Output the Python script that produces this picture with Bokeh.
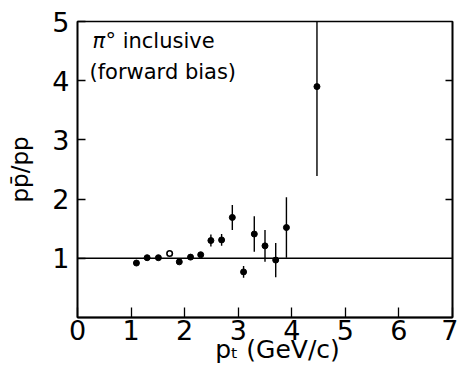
from bokeh.plotting import figure
from bokeh.models import Range1d, FixedTicker, LinearAxis, Span, Label, ColumnDataSource
from bokeh.embed import file_html
from bokeh.resources import INLINE

# data
pt_closed = [1.10, 1.30, 1.51, 1.90, 2.11, 2.30, 2.49, 2.69, 2.89, 3.10, 3.30, 3.50, 3.70, 3.90, 4.47]
ratio_closed = [0.92, 1.01, 1.01, 0.94, 1.02, 1.06, 1.30, 1.31, 1.69, 0.77, 1.41, 1.21, 0.97, 1.52, 3.90]
err_closed = [0.0, 0.0, 0.0, 0.0, 0.0, 0.0, 0.10, 0.10, 0.21, 0.10, 0.30, 0.27, 0.29, 0.51, 1.51]
pt_open = [1.72]
ratio_open = [1.08]
reference_ratio = 1.0
x_ticks = [0, 1, 2, 3, 4, 5, 6, 7]
y_ticks = [1, 2, 3, 4, 5]
right_ticks = [2, 3, 4]

FONT = "DejaVu Sans"

p = figure(width=458, height=372, output_backend="svg", toolbar_location=None,
           x_range=Range1d(0, 7), y_range=Range1d(0, 5),
           min_border_left=77, min_border_right=6, min_border_top=21, min_border_bottom=55)

p.grid.visible = False
p.outline_line_color = "black"
p.outline_line_width = 1.6
p.background_fill_color = "white"
p.border_fill_color = "white"

xa = p.xaxis[0]
xa.ticker = FixedTicker(ticks=x_ticks)
xa.major_tick_in = 10
xa.major_tick_out = 0
xa.minor_tick_line_color = None
xa.axis_line_width = 1.8
xa.major_tick_line_width = 1.3
xa.major_label_text_font = FONT
xa.major_label_text_font_size = "27px"
xa.major_label_standoff = 2
xa.major_label_text_color = "black"
xa.axis_label = "\u2003p\u209c (GeV/c)"
xa.axis_label_text_font = FONT
xa.axis_label_text_font_size = "25px"
xa.axis_label_text_font_style = "normal"
xa.axis_label_text_color = "black"
xa.axis_label_standoff = -8

ya = p.yaxis[0]
ya.ticker = FixedTicker(ticks=y_ticks)
ya.major_tick_in = 8
ya.major_tick_out = 0
ya.minor_tick_line_color = None
ya.axis_line_width = 1.6
ya.major_tick_line_width = 1.3
ya.major_label_text_font = FONT
ya.major_label_text_font_size = "27px"
ya.major_label_standoff = 8
ya.major_label_text_color = "black"
ya.axis_label = "pp\u0304/pp"
ya.axis_label_text_font = FONT
ya.axis_label_text_font_size = "23px"
ya.axis_label_text_font_style = "normal"
ya.axis_label_text_color = "black"
ya.axis_label_standoff = 16

ra = LinearAxis(ticker=FixedTicker(ticks=right_ticks), major_label_text_color=None,
                major_label_text_font_size="1px",
                major_tick_in=7, major_tick_out=0, minor_tick_line_color=None,
                axis_line_width=1.6, major_tick_line_width=1.3)
p.add_layout(ra, "right")

p.add_layout(Span(location=reference_ratio, dimension="width", line_color="black", line_width=1.6))

src = ColumnDataSource(data=dict(
    x=pt_closed, y=ratio_closed,
    lo=[r - e for r, e in zip(ratio_closed, err_closed)],
    hi=[r + e for r, e in zip(ratio_closed, err_closed)],
))
p.segment(x0="x", y0="lo", x1="x", y1="hi", source=src, line_color="black", line_width=1.4)
p.scatter(x="x", y="y", source=src, size=6, marker="circle", fill_color="black", line_color="black")
p.scatter(x=pt_open, y=ratio_open, size=5.5, marker="circle", fill_color="white",
          line_color="black", line_width=1.6)

p.add_layout(Label(x=15, y=277, x_units="screen", y_units="screen", text="\u03c0",
                   text_font=FONT, text_font_size="21px", text_font_style="italic",
                   text_baseline="middle", text_color="black"))
p.add_layout(Label(x=28, y=277, x_units="screen", y_units="screen", text="\u00b0 inclusive",
                   text_font=FONT, text_font_size="21px", text_baseline="middle", text_color="black"))
p.add_layout(Label(x=12, y=246, x_units="screen", y_units="screen", text="(forward bias)",
                   text_font=FONT, text_font_size="21px", text_baseline="middle", text_color="black"))

open("out.html", "w").write(file_html(p, INLINE))
